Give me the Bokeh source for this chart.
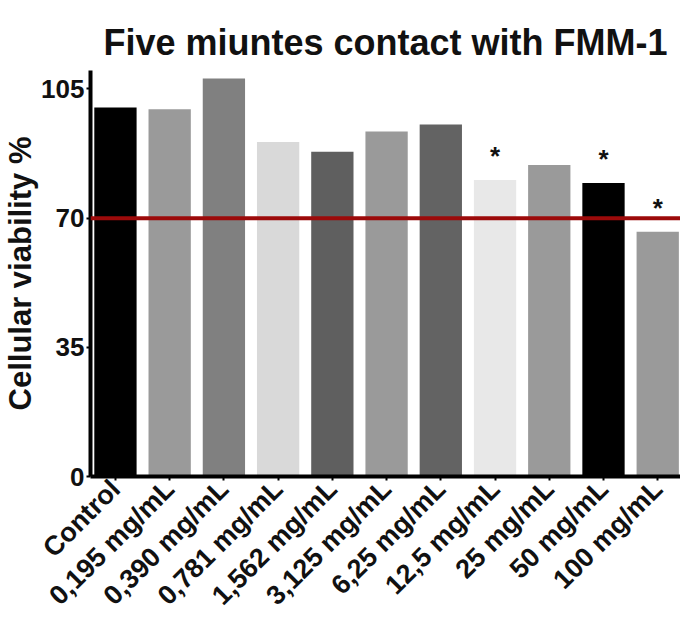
import math
from bokeh.plotting import figure
from bokeh.models import ColumnDataSource, Span, FixedTicker, Range1d
from bokeh.embed import file_html
from bokeh.resources import INLINE
from bokeh.core.properties import value

# ---- data ----
categories = ["Control", "0,195 mg/mL", "0,390 mg/mL", "0,781 mg/mL", "1,562 mg/mL",
              "3,125 mg/mL", "6,25 mg/mL", "12,5 mg/mL", "25 mg/mL", "50 mg/mL", "100 mg/mL"]
viability = [100.0, 99.5, 107.8, 90.6, 88.0, 93.5, 95.4, 80.3, 84.4, 79.5, 66.3]
bar_colors = ["#000000", "#9a9a9a", "#808080", "#d9d9d9", "#5f5f5f", "#9a9a9a",
              "#636363", "#e8e8e8", "#9a9a9a", "#000000", "#9a9a9a"]
significant = [False, False, False, False, False, False, False, True, False, True, True]
threshold = 70
y_ticks = [0, 35, 70, 105]
title_text = "Five miuntes contact with FMM-1"
y_label = "Cellular viability %"

FONT = "Liberation Sans"

xs = list(range(len(categories)))
src = ColumnDataSource(dict(x=xs, top=viability, color=bar_colors))

p = figure(width=680, height=624, output_backend="svg", toolbar_location=None,
           x_range=Range1d(-0.46, 10.42), y_range=Range1d(0, 110),
           min_border_left=86, min_border_right=0, min_border_top=70, min_border_bottom=146)

p.title.text = title_text
p.title.text_font = FONT
p.title.text_font_size = "36px"
p.title.text_font_style = "bold"
p.title.align = "center"
p.title.text_color = "#111111"
p.title.standoff = 16

p.vbar(x="x", top="top", bottom=0, width=0.78, fill_color="color", line_color=None, source=src)

p.add_layout(Span(location=threshold, dimension="width", line_color="#9c0a0a", line_width=4))

sx = [i for i, s in enumerate(significant) if s]
sy = [viability[i] + 6.5 for i in sx]
p.text(x=sx, y=sy, text=["*"] * len(sx), text_align="center", text_baseline="middle",
       text_font=value(FONT), text_font_size="26px", text_font_style="bold", text_color="#111111")

p.grid.visible = False
p.outline_line_color = None

ya = p.yaxis[0]
ya.ticker = FixedTicker(ticks=y_ticks)
ya.minor_tick_line_color = None
ya.axis_line_width = 4
ya.axis_line_color = "#000000"
ya.major_tick_line_width = 2
ya.major_tick_out = 4
ya.major_tick_in = 0
ya.major_label_text_font = FONT
ya.major_label_text_font_size = "26px"
ya.major_label_text_font_style = "bold"
ya.major_label_text_color = "#111111"
ya.major_label_standoff = 2
ya.axis_label = y_label
ya.axis_label_text_font = FONT
ya.axis_label_text_font_size = "31px"
ya.axis_label_text_font_style = "bold"
ya.axis_label_text_color = "#111111"
ya.axis_label_standoff = 0

xa = p.xaxis[0]
xa.ticker = FixedTicker(ticks=xs)
xa.major_label_overrides = {i: c for i, c in enumerate(categories)}
xa.minor_tick_line_color = None
xa.axis_line_width = 4
xa.axis_line_color = "#000000"
xa.major_tick_line_width = 2
xa.major_tick_out = 4
xa.major_tick_in = 0
xa.major_label_orientation = math.pi / 4
xa.major_label_text_font = FONT
xa.major_label_text_font_size = "27px"
xa.major_label_text_font_style = "bold"
xa.major_label_text_color = "#111111"
xa.major_label_standoff = 4

open("out.html", "w").write(file_html(p, INLINE))
